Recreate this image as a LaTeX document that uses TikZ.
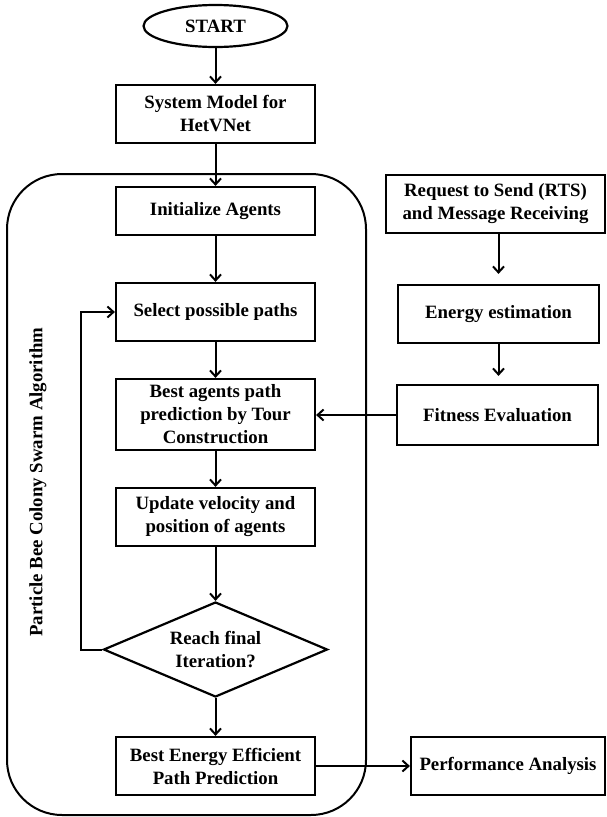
\documentclass[tikz,border=0pt]{standalone}
\usepackage{fontspec}
\setmainfont{Liberation Serif}
\usetikzlibrary{shapes.geometric,arrows.meta}

\def\lw{2.2pt}
\def\bw{199}

\begin{document}
\begin{tikzpicture}[x=1pt,y=-1pt,
    font=\bfseries\fontsize{18.8}{23}\selectfont,
    every node/.style={align=center,inner sep=0pt},
    blk/.style={draw,line width=\lw,minimum width=\bw pt,minimum height=58pt},
    arr/.style={line width=2pt,-{Straight Barb[length=6pt,width=11pt]}}]
    \useasboundingbox (0,0) rectangle (606,817);
    \node[draw,line width=2pt,rounded corners=55pt,minimum width=359pt,minimum height=641pt] (swarm) at (186.5,494.5) {};
    \node[rotate=90] (swarmlabel) at (38,482) {Particle Bee Colony Swarm Algorithm};

    \node[draw,ellipse,line width=\lw,minimum width=144pt,minimum height=42pt] (start) at (215.5,26) {START};
    \node[blk] (sysmodel) at (215.5,114) {System Model for\\HetVNet};
    \node[blk,minimum height=48pt] (init) at (215.5,211) {Initialize Agents};
    \node[blk] (select) at (215.5,312) {Select possible paths};
    \node[blk,minimum height=71pt] (tour) at (215.5,414.5) {Best agents path\\prediction by Tour\\Construction};
    \node[blk] (update) at (215.5,517) {Update velocity and\\position of agents};
    \node[draw,diamond,aspect=2.36,line width=\lw,minimum width=224pt,minimum height=95pt] (final) at (215.5,649.5) {Reach final\\Iteration?};
    \node[blk] (bestpath) at (215.5,766) {Best Energy Efficient\\Path Prediction};

    \node[blk,minimum width=219pt] (rts) at (495.5,204) {Request to Send (RTS)\\and Message Receiving};
    \node[blk,minimum width=201pt] (energy) at (498.5,314) {Energy estimation};
    \node[blk,minimum width=201pt,minimum height=60pt] (fitness) at (497.5,415) {Fitness Evaluation};
    \node[blk,minimum width=194pt] (perf) at (508,766) {Performance Analysis};

    \foreach \a/\b in {start/sysmodel,sysmodel/init,init/select,select/tour,tour/update,update/final,final/bestpath}
        \draw[arr] (\a) -- (\b);
    \draw[arr] (final.west) -- ++(-21,0) |- (select.west);
    \draw[arr,shorten >=10pt] (rts.south -| energy.north) -- (energy.north);
    \draw[arr,shorten >=8pt] (energy) -- (energy |- fitness.north);
    \draw[arr] (fitness.west) -- (fitness.west -| tour.east);
    \draw[arr] (bestpath.east) -- (perf.west);
\end{tikzpicture}
\end{document}
